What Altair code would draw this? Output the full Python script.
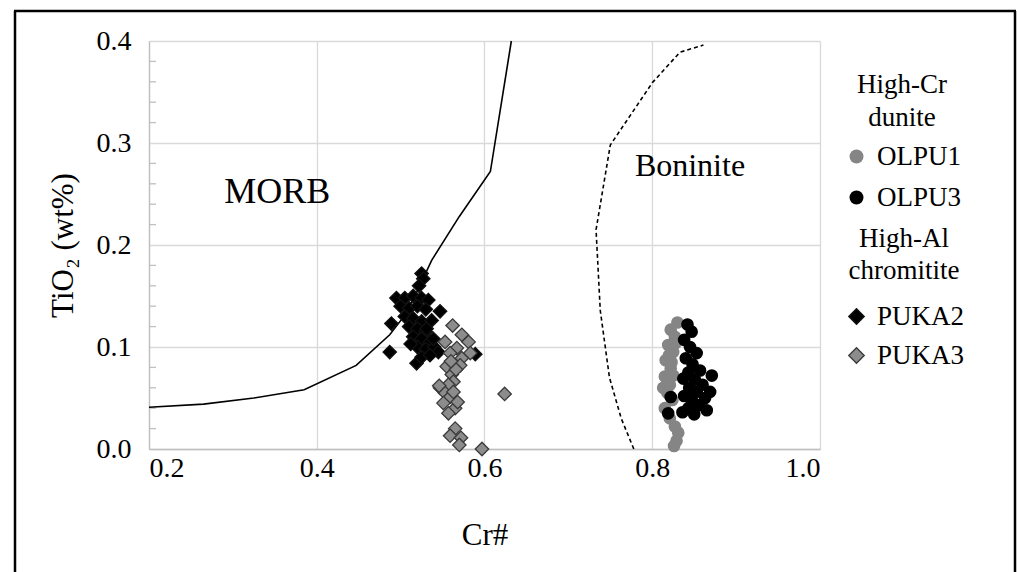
import altair as alt
import pandas as pd

FONT = "Liberation Serif"

# ---------------- data ----------------
x_ticks = [0.2, 0.4, 0.6, 0.8, 1.0]
y_ticks = [0.0, 0.1, 0.2, 0.3, 0.4]
y_minor = [0.02, 0.04, 0.06, 0.08, 0.12, 0.14, 0.16, 0.18, 0.22, 0.24, 0.26, 0.28,
           0.32, 0.34, 0.36, 0.38]

morb_x = [0.200, 0.265, 0.325, 0.385, 0.447, 0.487, 0.503, 0.517, 0.537, 0.570, 0.607, 0.632]
morb_y = [0.041, 0.044, 0.050, 0.058, 0.082, 0.112, 0.129, 0.150, 0.185, 0.228, 0.272, 0.400]

bon_x = [0.778, 0.763, 0.749, 0.738, 0.733, 0.750, 0.800, 0.833, 0.861]
bon_y = [0.000, 0.030, 0.070, 0.136, 0.215, 0.298, 0.359, 0.389, 0.396]

olpu1_x = [0.830, 0.822, 0.827, 0.819, 0.825, 0.816, 0.822, 0.815, 0.821, 0.818, 0.824, 0.815,
           0.821, 0.827, 0.831, 0.829, 0.826, 0.819, 0.813, 0.825, 0.820, 0.828, 0.823]
olpu1_y = [0.124, 0.117, 0.110, 0.102, 0.095, 0.087, 0.079, 0.071, 0.063, 0.055, 0.048, 0.040,
           0.030, 0.022, 0.016, 0.008, 0.003, 0.068, 0.060, 0.072, 0.092, 0.104, 0.085]

olpu3_x = [0.842, 0.847, 0.838, 0.845, 0.853, 0.840, 0.848, 0.857, 0.843, 0.837, 0.851, 0.860,
           0.844, 0.853, 0.863, 0.838, 0.847, 0.856, 0.843, 0.865, 0.850, 0.836, 0.822, 0.819,
           0.871, 0.869]
olpu3_y = [0.122, 0.115, 0.107, 0.100, 0.094, 0.089, 0.083, 0.077, 0.075, 0.069, 0.068, 0.063,
           0.060, 0.056, 0.050, 0.052, 0.048, 0.043, 0.040, 0.038, 0.034, 0.036, 0.051, 0.035,
           0.072, 0.056]

puka2_x = [0.525, 0.527, 0.522, 0.495, 0.505, 0.515, 0.525, 0.533, 0.500, 0.510, 0.520, 0.530,
           0.547, 0.489, 0.505, 0.515, 0.525, 0.537, 0.510, 0.520, 0.530, 0.515, 0.525, 0.535,
           0.520, 0.530, 0.540, 0.545, 0.487, 0.519, 0.525, 0.535, 0.539, 0.589, 0.531, 0.512]
puka2_y = [0.172, 0.167, 0.160, 0.148, 0.148, 0.150, 0.148, 0.146, 0.140, 0.138, 0.140, 0.137,
           0.135, 0.123, 0.130, 0.128, 0.125, 0.126, 0.120, 0.118, 0.115, 0.110, 0.108, 0.105,
           0.100, 0.098, 0.100, 0.095, 0.095, 0.084, 0.090, 0.092, 0.108, 0.093, 0.118, 0.103]

puka3_x = [0.562, 0.573, 0.581, 0.553, 0.583, 0.567, 0.559, 0.573, 0.555, 0.571, 0.561, 0.563,
           0.547, 0.557, 0.553, 0.559, 0.565, 0.551, 0.557, 0.563, 0.624, 0.565, 0.559, 0.572,
           0.570, 0.597, 0.546, 0.566, 0.560, 0.568]
puka3_y = [0.121, 0.112, 0.105, 0.105, 0.094, 0.099, 0.094, 0.089, 0.081, 0.082, 0.073, 0.066,
           0.060, 0.063, 0.055, 0.051, 0.040, 0.045, 0.035, 0.056, 0.054, 0.020, 0.013, 0.011,
           0.004, 0.000, 0.062, 0.078, 0.086, 0.046]

labels_txt = ["MORB", "Boninite"]
labels_x = [0.353, 0.845]
labels_y = [0.252, 0.277]
labels_size = [36, 32]

# ---------------- tables ----------------
morb = pd.DataFrame({"x": morb_x, "y": morb_y, "i": range(len(morb_x))})
bon = pd.DataFrame({"x": bon_x, "y": bon_y, "i": range(len(bon_x))})
circ = pd.concat([
    pd.DataFrame({"x": olpu1_x, "y": olpu1_y, "s": "OLPU1"}),
    pd.DataFrame({"x": olpu3_x, "y": olpu3_y, "s": "OLPU3"}),
], ignore_index=True)
diam = pd.concat([
    pd.DataFrame({"x": puka2_x, "y": puka2_y, "d": "PUKA2"}),
    pd.DataFrame({"x": puka3_x, "y": puka3_y, "d": "PUKA3"}),
], ignore_index=True)
lab = pd.DataFrame({"x": labels_x, "y": labels_y, "t": labels_txt, "fs": labels_size})
minor = pd.DataFrame({"y": y_minor})
one = pd.DataFrame({"a": [0]})

# ---------------- encodings ----------------
X = alt.X("x:Q", scale=alt.Scale(domain=[0.2, 1.0], nice=False, zero=False),
          axis=alt.Axis(values=x_ticks, format=".1f", title="Cr#", ticks=False,
                        labelPadding=5, titlePadding=38, titleFontSize=31))
Y = alt.Y("y:Q", scale=alt.Scale(domain=[0.0, 0.4], nice=False, zero=False),
          axis=alt.Axis(values=y_ticks, format=".1f", title="TiO₂ (wt%)", ticks=False,
                        labelPadding=18, titlePadding=17, titleFontSize=31))

minor_ticks = alt.Chart(minor).mark_rule(color="#bfbfbf", strokeWidth=1.3).encode(
    y=Y, x=alt.value(0), x2=alt.value(7))

morb_line = alt.Chart(morb).mark_line(color="black", strokeWidth=1.6).encode(
    x=X, y=Y, order="i:Q")
bon_line = alt.Chart(bon).mark_line(color="black", strokeWidth=1.6, strokeDash=[4, 3]).encode(
    x=X, y=Y, order="i:Q")

circles = alt.Chart(circ).mark_circle(size=160, opacity=1).encode(
    x=X, y=Y,
    color=alt.Color("s:N", title=["High-Cr", "dunite"],
                    scale=alt.Scale(domain=["OLPU1", "OLPU3"], range=["#858585", "#000000"]),
                    legend=alt.Legend(orient="none", legendX=694, legendY=31,
                                      titleAnchor="middle", titleAlign="center",
                                      titleLineHeight=33, titlePadding=11,
                                      symbolType="circle", symbolSize=195,
                                      labelOffset=7, rowPadding=13, padding=0)))

diamonds = alt.Chart(diam).mark_point(shape="diamond", filled=True, size=180, opacity=1,
                                      strokeWidth=1.3).encode(
    x=X, y=Y,
    fill=alt.Fill("d:N", title=["High-Al", "chromitite"],
                  scale=alt.Scale(domain=["PUKA2", "PUKA3"], range=["#000000", "#8c8c8c"]),
                  legend=alt.Legend(orient="none", legendX=694, legendY=185,
                                    titleAnchor="middle", titleAlign="center",
                                    titleLineHeight=32, titlePadding=18,
                                    symbolType="diamond", symbolSize=240,
                                    symbolStrokeColor="#333333", symbolStrokeWidth=1.3,
                                    labelOffset=7, rowPadding=11, padding=0)),
    stroke=alt.Stroke("d:N", scale=alt.Scale(domain=["PUKA2", "PUKA3"],
                                             range=["#111111", "#3a3a3a"]), legend=None))

texts = alt.Chart(lab).mark_text(font=FONT, color="black",
                                 align="center", baseline="middle").encode(
    x=X, y=Y, text="t:N", size=alt.Size("fs:Q", scale=None, legend=None))

frame_l = alt.Chart(one).mark_rule(color="black", strokeWidth=2.5).encode(
    x=alt.value(-134), y=alt.value(-30), y2=alt.value(560))
frame_r = alt.Chart(one).mark_rule(color="black", strokeWidth=2.5).encode(
    x=alt.value(866), y=alt.value(-30), y2=alt.value(560))
frame_t = alt.Chart(one).mark_rule(color="black", strokeWidth=2.5).encode(
    y=alt.value(-30), x=alt.value(-135), x2=alt.value(867))

chart = alt.layer(
    minor_ticks, morb_line, bon_line, circles, diamonds, texts, frame_l, frame_r, frame_t
).properties(
    width=671, height=408,
    padding={"left": 149, "top": 41, "right": 197, "bottom": 123},
    autosize=alt.AutoSizeParams(type="none"),
    background="white",
).configure_view(
    stroke="transparent"
).configure_axis(
    labelFont=FONT, titleFont=FONT, labelFontSize=28,
    labelColor="black", titleColor="black", titleFontWeight="normal",
    domainColor="#bfbfbf", domainWidth=1.3, gridColor="#d9d9d9", gridWidth=1.3,
).configure_legend(
    titleFont=FONT, labelFont=FONT, titleFontSize=27, labelFontSize=27,
    titleFontWeight="normal", titleColor="black", labelColor="black",
)

chart.save("out.html", embed_options={"renderer": "svg", "actions": False})
